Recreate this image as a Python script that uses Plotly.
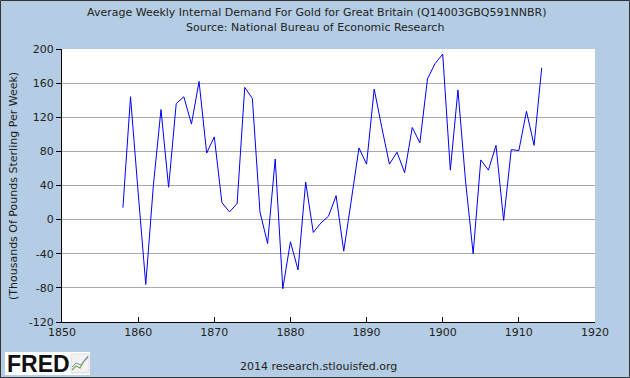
import plotly.graph_objects as go

years = list(range(1858, 1914))
values = [14, 144, 32, -76, 40, 129, 38, 136, 144, 112,
          162, 78, 97, 20, 9, 19, 155, 142, 9, -28,
          71, -81, -26, -59, 44, -15, -4, 4, 28, -37,
          23, 84, 65, 153, 108, 65, 79, 55, 108, 90,
          165, 183, 194, 58, 152, 45, -40, 70, 58, 87,
          -1, 82, 81, 127, 87, 178]

x_ticks = [1850, 1860, 1870, 1880, 1890, 1900, 1910, 1920]
y_ticks = [-120, -80, -40, 0, 40, 80, 120, 160, 200]

title_line1 = "Average Weekly Internal Demand For Gold for Great Britain (Q14003GBQ591NNBR)"
title_line2 = "Source: National Bureau of Economic Research"
y_title = "(Thousands Of Pounds Sterling Per Week)"
footer = "2014 research.stlouisfed.org"

BG = "#b4cde4"
FONT = "DejaVu Sans"

fig = go.Figure()
fig.add_trace(go.Scatter(x=years, y=values, mode="lines",
                         line=dict(color="#0000ff", width=1), hoverinfo="x+y"))

L, R, T, B = 62, 35, 49, 56
W, H = 630, 378
pw, ph = W - L - R, H - T - B

fig.update_layout(
    width=W, height=H,
    margin=dict(l=L, r=R, t=T, b=B),
    paper_bgcolor=BG, plot_bgcolor="white",
    showlegend=False,
    font=dict(family=FONT, size=11, color="#222222"),
    xaxis=dict(range=[1850, 1920], tickvals=x_ticks, ticktext=[str(v) for v in x_ticks],
               showgrid=False, zeroline=False, showline=True, linecolor="black",
               linewidth=1, ticks="inside", ticklen=5, tickcolor="black",
               tickfont=dict(family=FONT, size=11, color="#222222")),
    yaxis=dict(range=[-120, 200], tickvals=y_ticks, ticktext=[str(v) for v in y_ticks],
               showgrid=True, gridcolor="#a8a8a8", gridwidth=1, zeroline=False,
               showline=True, linecolor="black", linewidth=1,
               ticks="outside", ticklen=5, tickcolor="black",
               tickfont=dict(family=FONT, size=11, color="#222222")),
)

def px2x(px):
    return (px - L) / pw

def py2y(py):
    return (H - py - B) / ph

texts = [
    (title_line1, 316, 12),
    (title_line2, 315, 27),
    (footer, 318, 366),
]
for t, x, y in texts:
    fig.add_annotation(text=t, xref="paper", yref="paper",
                       x=px2x(x), y=py2y(y),
                       showarrow=False, xanchor="center", yanchor="middle",
                       font=dict(family=FONT, size=11, color="#222222"))

fig.add_annotation(text=y_title, xref="paper", yref="paper",
                   x=px2x(13), y=py2y(186), textangle=-90,
                   showarrow=False, xanchor="center", yanchor="middle",
                   font=dict(family=FONT, size=11, color="#222222"))

# outer frame
fig.add_shape(type="rect", xref="paper", yref="paper",
              x0=px2x(0.5), x1=px2x(W - 0.5), y0=py2y(H - 0.5), y1=py2y(0.5),
              line=dict(color="#333333", width=1), fillcolor="rgba(0,0,0,0)", layer="below")

# FRED logo box
fig.add_shape(type="rect", xref="paper", yref="paper",
              x0=px2x(5), x1=px2x(90), y0=py2y(375), y1=py2y(352),
              line=dict(width=0), fillcolor="white")
fig.add_annotation(text="<b>FRED</b>", xref="paper", yref="paper",
                   x=px2x(38), y=py2y(364), showarrow=False,
                   xanchor="center", yanchor="middle",
                   font=dict(family="Liberation Sans", size=23, color="#111111"))
fig.add_shape(type="rect", xref="paper", yref="paper",
              x0=px2x(71), x1=px2x(89), y0=py2y(373), y1=py2y(354),
              line=dict(color="#dddddd", width=1), fillcolor="#f2f2f2")
fig.add_shape(type="path", xref="paper", yref="paper",
              path="M {} {} L {} {} L {} {} L {} {} L {} {}".format(
                  px2x(72), py2y(370), px2x(76), py2y(366), px2x(80), py2y(368),
                  px2x(84), py2y(361), px2x(88), py2y(357)),
              line=dict(color="#7aa64a", width=1.2))
fig.add_shape(type="path", xref="paper", yref="paper",
              path="M {} {} L {} {} L {} {} L {} {}".format(
                  px2x(72), py2y(367), px2x(76), py2y(363), px2x(81), py2y(365),
                  px2x(88), py2y(356)),
              line=dict(color="#6f8fbf", width=1))

fig.write_html("out.html", config={"displayModeBar": False},
               post_script="document.body.style.margin='0';document.body.style.overflow='hidden';")
